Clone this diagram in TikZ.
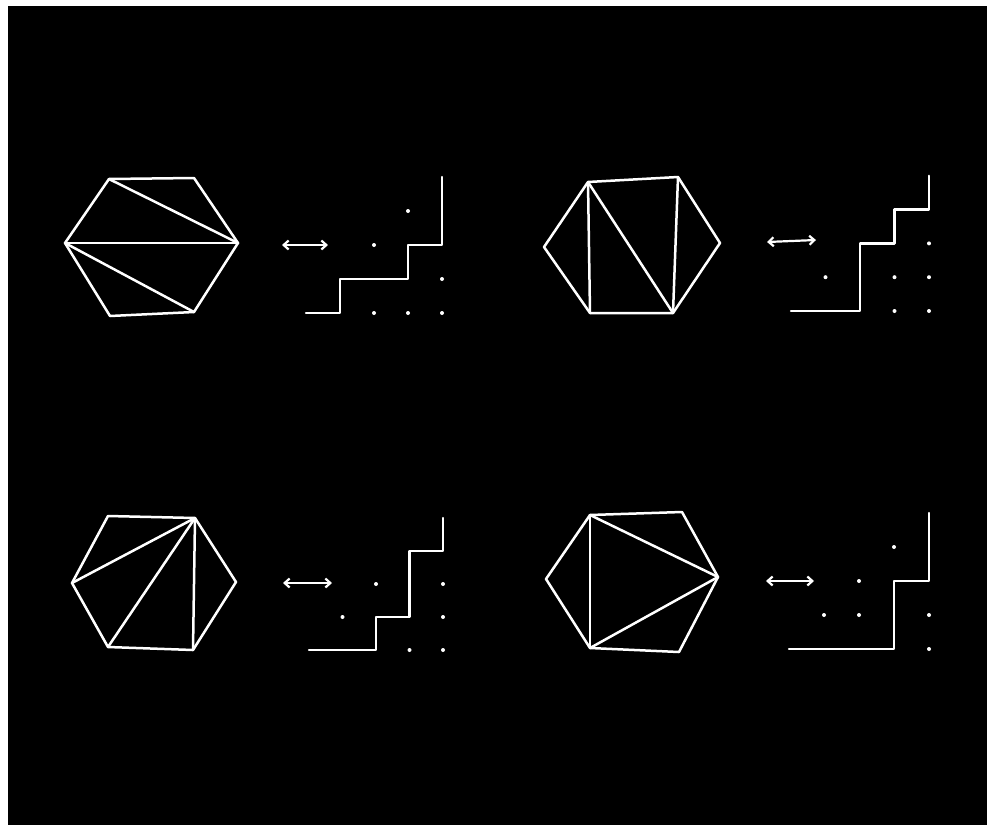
\documentclass[tikz,border=0pt]{standalone}
\usetikzlibrary{arrows.meta}
\begin{document}
\begin{tikzpicture}[x=1pt,y=-1pt,
  edge/.style={draw=white,line width=2.5pt,line join=round,line cap=round},
  stair/.style={draw=white,line width=2.5pt,line join=round,line cap=round},
  dbl/.style={draw=white,line width=2.2pt,{Straight Barb[length=5pt,width=9pt]}-{Straight Barb[length=5pt,width=9pt]}},
  latdot/.style={fill=white}]
\useasboundingbox (0,0) rectangle (990,825);
\fill[white] (0,0) rectangle (990,825);
\fill[black] (8,6) rectangle (987,825);

% ---------- Panel 1 ----------
\coordinate (a1) at (109,179);
\coordinate (b1) at (194,178);
\coordinate (c1) at (238,243);
\coordinate (d1) at (194,312);
\coordinate (e1) at (110,316);
\coordinate (f1) at (65,243);
\draw[edge] (a1) -- (b1) -- (c1) -- (d1) -- (e1) -- (f1) -- cycle;
\draw[edge] (a1) -- (c1);
\draw[edge] (f1) -- (c1);
\draw[edge] (f1) -- (d1);
\coordinate (l1) at (282,245);
\coordinate (r1) at (328,245);
\draw[dbl] (l1) -- (r1);
\begin{scope}[shift={(306pt,-313pt)},x={(34pt,0pt)},y={(0pt,34pt)}]
  \foreach \i in {0,...,4}{\foreach \j in {0,...,4}{\coordinate (g1-\i-\j) at (\i,\j);}}
\end{scope}
\draw[stair] (g1-0-0) -- (g1-1-0) -- (g1-1-1) -- (g1-3-1) -- (g1-3-2) -- (g1-4-2) -- (g1-4-4);
\foreach \p in {2-0,3-0,4-0,4-1,2-2,3-3}{\fill[latdot] (g1-\p) circle (2);}

% ---------- Panel 2 ----------
\coordinate (a2) at (588,182);
\coordinate (b2) at (678,177);
\coordinate (c2) at (720,243);
\coordinate (d2) at (673,313);
\coordinate (e2) at (590,313);
\coordinate (f2) at (544,247);
\draw[edge] (a2) -- (b2) -- (c2) -- (d2) -- (e2) -- (f2) -- cycle;
\draw[edge] (a2) -- (e2);
\draw[edge] (a2) -- (d2);
\draw[edge] (b2) -- (d2);
\coordinate (l2) at (767,242);
\coordinate (r2) at (816,240);
\draw[dbl] (l2) -- (r2);
\begin{scope}[shift={(791pt,-311pt)},x={(34.5pt,0pt)},y={(0pt,33.8pt)}]
  \foreach \i in {0,...,4}{\foreach \j in {0,...,4}{\coordinate (g2-\i-\j) at (\i,\j);}}
\end{scope}
\draw[stair] (g2-0-0) -- (g2-2-0) -- (g2-2-2) -- (g2-3-2) -- (g2-3-3) -- (g2-4-3) -- (g2-4-4);
\foreach \p in {3-0,4-0,1-1,3-1,4-1,4-2}{\fill[latdot] (g2-\p) circle (2);}

% ---------- Panel 3 ----------
\coordinate (a3) at (108,516);
\coordinate (b3) at (195,518);
\coordinate (c3) at (236,582);
\coordinate (d3) at (193,650);
\coordinate (e3) at (108,647);
\coordinate (f3) at (72,583);
\draw[edge] (a3) -- (b3) -- (c3) -- (d3) -- (e3) -- (f3) -- cycle;
\draw[edge] (b3) -- (f3);
\draw[edge] (b3) -- (e3);
\draw[edge] (b3) -- (d3);
\coordinate (l3) at (283,583);
\coordinate (r3) at (332,583);
\draw[dbl] (l3) -- (r3);
\begin{scope}[shift={(309pt,-650pt)},x={(33.5pt,0pt)},y={(0pt,33pt)}]
  \foreach \i in {0,...,4}{\foreach \j in {0,...,4}{\coordinate (g3-\i-\j) at (\i,\j);}}
\end{scope}
\draw[stair] (g3-0-0) -- (g3-2-0) -- (g3-2-1) -- (g3-3-1) -- (g3-3-3) -- (g3-4-3) -- (g3-4-4);
\foreach \p in {3-0,4-0,1-1,4-1,2-2,4-2}{\fill[latdot] (g3-\p) circle (2);}

% ---------- Panel 4 ----------
\coordinate (a4) at (590,515);
\coordinate (b4) at (682,512);
\coordinate (c4) at (718,577);
\coordinate (d4) at (679,652);
\coordinate (e4) at (590,648);
\coordinate (f4) at (546,579);
\draw[edge] (a4) -- (b4) -- (c4) -- (d4) -- (e4) -- (f4) -- cycle;
\draw[edge] (a4) -- (e4);
\draw[edge] (a4) -- (c4);
\draw[edge] (e4) -- (c4);
\coordinate (l4) at (766,581);
\coordinate (r4) at (814,581);
\draw[dbl] (l4) -- (r4);
\begin{scope}[shift={(789pt,-649pt)},x={(35pt,0pt)},y={(0pt,34pt)}]
  \foreach \i in {0,...,4}{\foreach \j in {0,...,4}{\coordinate (g4-\i-\j) at (\i,\j);}}
\end{scope}
\draw[stair] (g4-0-0) -- (g4-3-0) -- (g4-3-2) -- (g4-4-2) -- (g4-4-4);
\foreach \p in {4-0,1-1,2-1,4-1,2-2,3-3}{\fill[latdot] (g4-\p) circle (2);}
\end{tikzpicture}
\end{document}
